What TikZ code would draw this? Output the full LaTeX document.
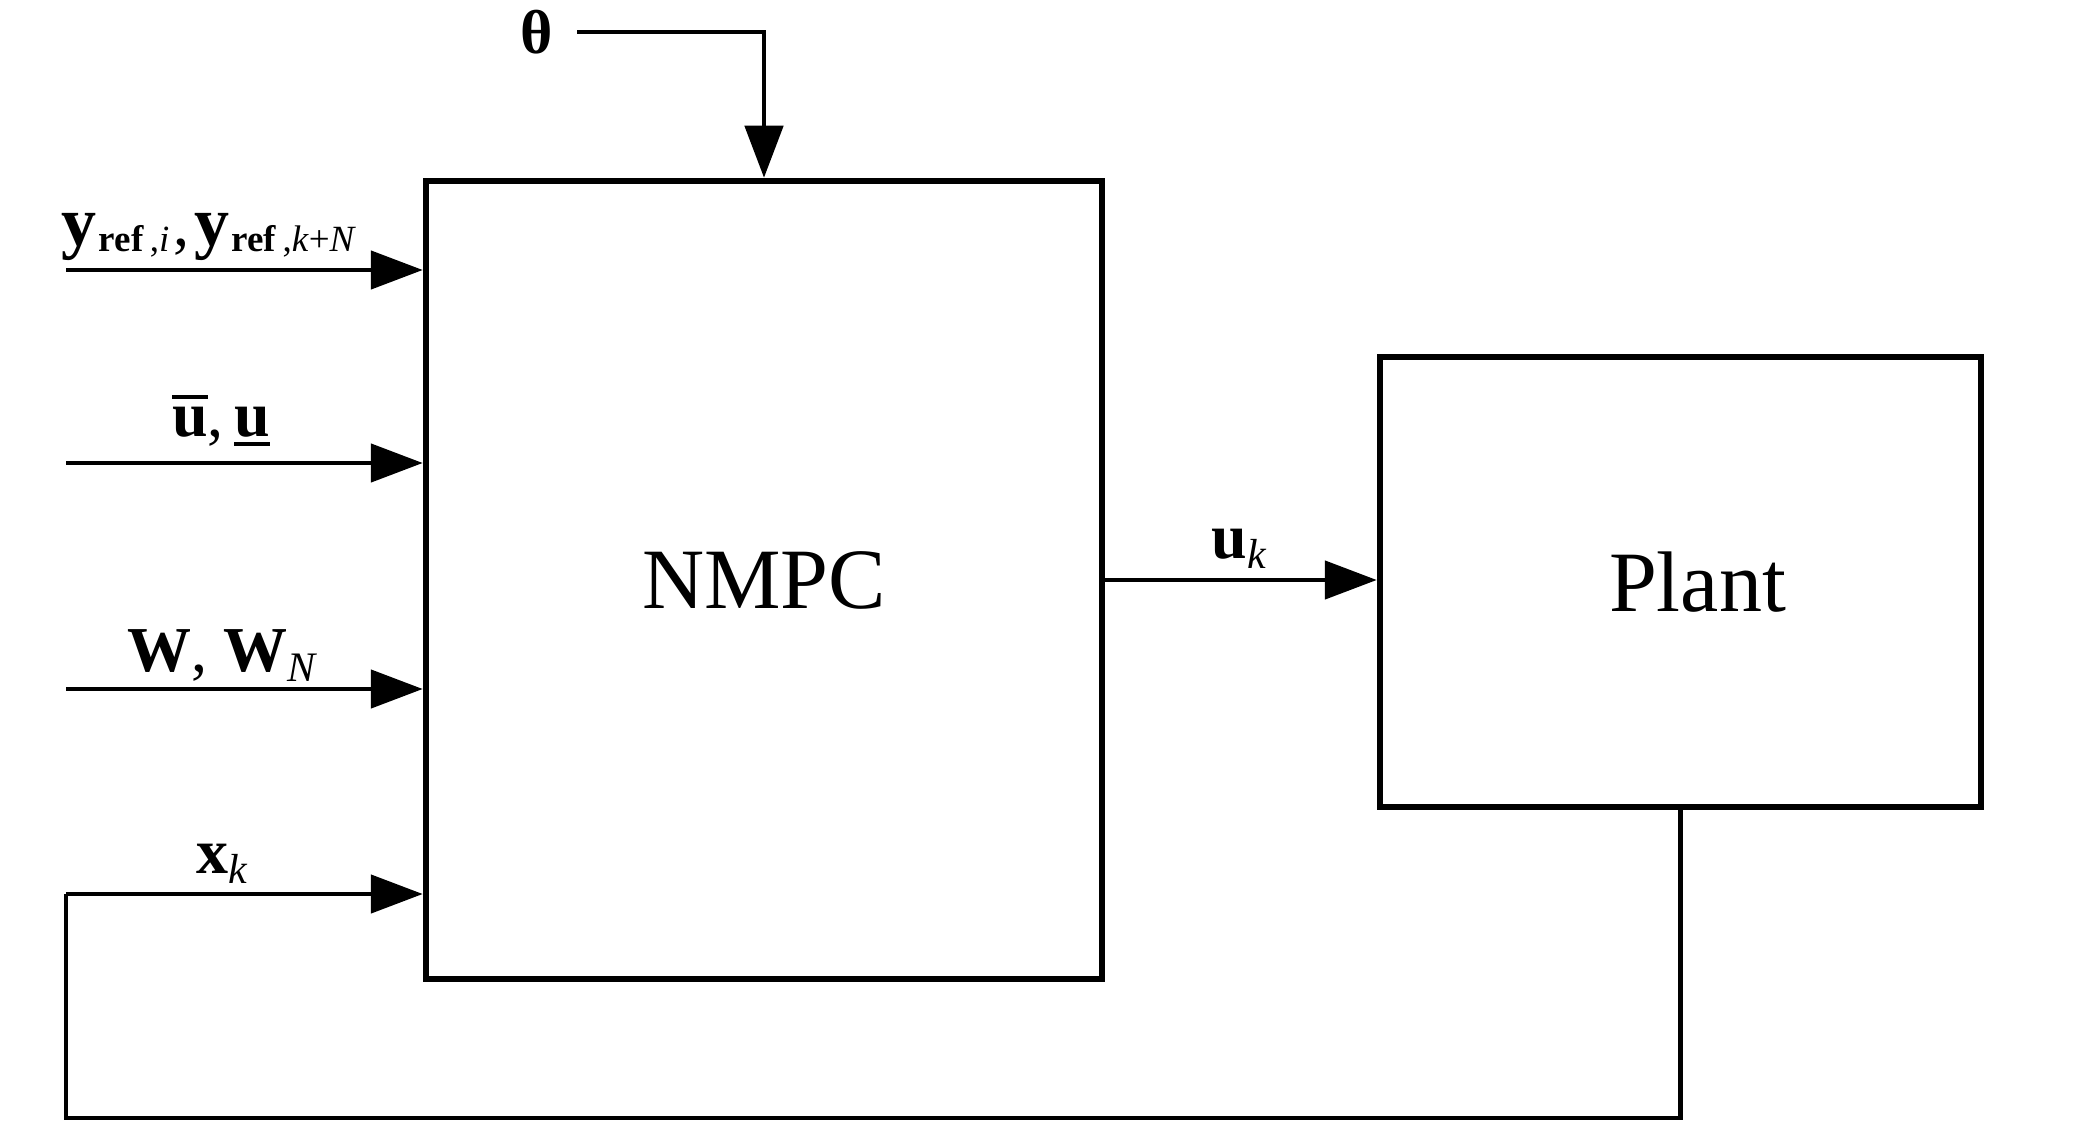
\documentclass[tikz,border=0pt]{standalone}
\usepackage{fontspec}
\setmainfont{Liberation Serif}
\usetikzlibrary{arrows.meta}
\newcommand{\lbl}{\fontsize{64}{70}\selectfont}
\newcommand{\sbs}[1]{\raisebox{-0.16em}{\fontsize{42}{44}\selectfont #1}}
\newcommand{\sbr}[1]{\raisebox{-0.1em}{\fontsize{37}{40}\selectfont #1}}
\newcommand{\bigy}{{\fontsize{70}{72}\selectfont\textbf{y}}}
\newcommand{\ovl}[1]{\setbox0\hbox{#1}\rlap{\rule[\dimexpr\ht0+0.12em\relax]{\wd0}{0.06em}}\box0}
\newcommand{\unl}[1]{\setbox0\hbox{#1}\rlap{\rule[-0.16em]{\wd0}{0.06em}}\box0}
\begin{document}
\begin{tikzpicture}[x=1pt,y=-1pt,
  blk/.style={draw,line width=6.5pt,inner sep=0pt,font=\fontsize{86}{90}\selectfont},
  conn/.style={line width=4.8pt},
  arr/.style={conn,-{Triangle[length=52pt,width=38pt]}},
  lab/.style={inner sep=0pt,anchor=base,font=\lbl}]
\useasboundingbox (0,0) rectangle (2074,1134);
\node[blk,minimum width=676pt,minimum height=798pt] (nmpc) at (764,580) {NMPC};
\node[blk,minimum width=601pt,minimum height=450pt] (plant) at (1680.5,582) {\hspace*{34pt}Plant};
% theta input
\node[inner sep=0pt,font=\fontsize{62}{64}\selectfont\bfseries] (th) at (537,32) {θ};
\coordinate (ths) at (577,32);
\coordinate (thc) at (764,32);
\draw[arr] (ths) -- (thc) -- (nmpc.north);
% left inputs
\coordinate (in1) at (66,270);
\coordinate (in2) at (66,463);
\coordinate (in3) at (66,689);
\coordinate (fb) at (66,894);
\draw[arr] (in1) -- (in1 -| nmpc.west);
\draw[arr] (in2) -- (in2 -| nmpc.west);
\draw[arr] (in3) -- (in3 -| nmpc.west);
\node[lab] (l1) at (209,245) {\bigy\kern2pt\sbr{\textbf{ref}\,,\textit{i}}\kern4pt,\kern5pt\bigy\kern2pt\sbr{\textbf{ref}\,,\textit{k}+\textit{N}}};
\node[lab] (l2) at (221,436) {\ovl{\textbf{u}},\,\unl{\textbf{u}}};
\node[lab] (l3) at (222,671) {\textbf{W}, \textbf{W}\sbs{\textit{N}}};
\node[lab] (l4) at (222,873) {\textbf{x}\sbs{\textit{k}}};
% control
\draw[arr] (nmpc.east |- 0,580) -- (plant.west |- 0,580);
\node[lab] (l5) at (1239,558) {\textbf{u}\sbs{\textit{k}}};
% feedback
\coordinate (fb1) at (plant.south |- 0,1118);
\coordinate (fb2) at (66,1118);
\draw[conn] (plant.south) -- (fb1) -- (fb2) -- (fb);
\draw[arr] (fb) -- (fb -| nmpc.west);
\end{tikzpicture}
\end{document}
